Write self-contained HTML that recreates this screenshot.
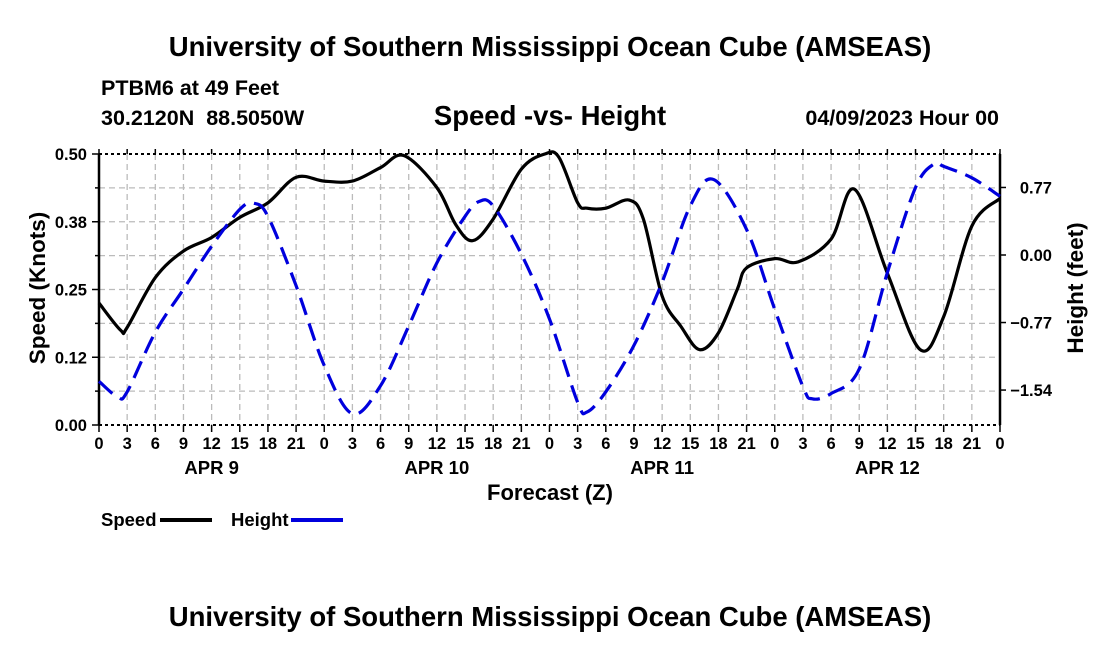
<!DOCTYPE html>
<html><head><meta charset="utf-8"><style>
html,body{margin:0;padding:0;background:#fff;}
svg text{font-family:"Liberation Sans",Arial,sans-serif;font-weight:bold;fill:#000;white-space:pre;}
</style></head><body>
<svg id="chart" width="1100" height="650" viewBox="0 0 1100 650" xmlns="http://www.w3.org/2000/svg">
<text x="550" y="56" font-size="27.5" text-anchor="middle">University of Southern Mississippi Ocean Cube (AMSEAS)</text>
<text x="101" y="95" font-size="21.5">PTBM6 at 49 Feet</text>
<text x="101" y="125" font-size="21.5" xml:space="preserve">30.2120N  88.5050W</text>
<text x="550" y="125" font-size="27.5" text-anchor="middle">Speed -vs- Height</text>
<text x="999" y="125" font-size="21.5" text-anchor="end">04/09/2023 Hour 00</text>
<g id="grid"></g>
<g id="axes"></g>
<g id="series"></g>
<text transform="translate(45,288) rotate(-90)" font-size="22.5" text-anchor="middle">Speed (Knots)</text>
<text transform="translate(1083,288) rotate(-90)" font-size="22.5" text-anchor="middle">Height (feet)</text>
<text x="550" y="500" font-size="22" text-anchor="middle">Forecast (Z)</text>
<g>
<text x="101" y="526" font-size="18.5">Speed</text>
<line x1="160" y1="520" x2="212" y2="520" stroke="#000" stroke-width="4"/>
<text x="231" y="526" font-size="18.5">Height</text>
<line x1="291" y1="520" x2="343" y2="520" stroke="#0000dd" stroke-width="4"/>
</g>
<text x="550" y="626" font-size="27.5" text-anchor="middle">University of Southern Mississippi Ocean Cube (AMSEAS)</text>
</svg>
<script>
const speedHours=[0,2.3,3,6,9,12,15,18,21,24,27,30,32.5,36,38,39.8,42,45,47.5,49,51,52,54,56.5,58,60,62,64,66,68,69,72,74.5,78,80.5,84,87.5,90,93,96];
const speedValues=[0.225,0.175,0.18,0.272,0.321,0.346,0.383,0.41,0.457,0.45,0.45,0.475,0.497,0.438,0.37,0.34,0.38,0.472,0.5,0.494,0.41,0.40,0.40,0.415,0.38,0.238,0.182,0.139,0.17,0.25,0.29,0.307,0.301,0.343,0.435,0.28,0.139,0.2,0.367,0.418];
const heightHours=[0,2,3,6,9,12,15,16.5,18,21,24,27,30,33,36,39,40.5,42,45,48,51,52,54,57,60,63,65.5,69,72,75,76,78,81,84,87,89,90,93,96];
const heightValues=[-1.44,-1.62,-1.56,-0.88,-0.39,0.10,0.52,0.59,0.44,-0.35,-1.26,-1.81,-1.49,-0.81,-0.09,0.44,0.61,0.56,0.01,-0.73,-1.68,-1.79,-1.56,-1.03,-0.31,0.56,0.86,0.29,-0.62,-1.5,-1.64,-1.58,-1.3,-0.2,0.77,1.04,1.01,0.88,0.67];
const xTickLabels=["0","3","6","9","12","15","18","21"];
const dayLabels=["APR 9","APR 10","APR 11","APR 12"];
const speedTicks=[0,0.125,0.25,0.375,0.5];
const speedTickLabels=["0.00","0.12","0.25","0.38","0.50"];
const heightTicks=[0.77,0,-0.77,-1.54];
const heightTickLabels=["0.77","0.00","\u22120.77","\u22121.54"];

const X0=99,X1=1000,Y0=154,Y1=425;
const xS=h=>X0+(X1-X0)*h/96;
const yS=v=>Y1-(Y1-Y0)*v/0.5;
const yH=f=>255-f*87.7;
const NS='http://www.w3.org/2000/svg';
function mk(tag,attrs,parent,txt){const e=document.createElementNS(NS,tag);for(const k in attrs)e.setAttribute(k,attrs[k]);if(txt!==undefined)e.textContent=txt;parent.appendChild(e);return e;}
const grid=document.getElementById('grid'),axes=document.getElementById('axes'),series=document.getElementById('series');
for(let i=1;i<32;i++){const g=mk('line',{x1:xS(i*3),x2:xS(i*3),y1:Y0,y2:Y1,stroke:'#bbb','stroke-width':1.3,'stroke-dasharray':'6,4'},grid);

}
for(let i=1;i<8;i++){const v=i*0.0625;const g=mk('line',{x1:X0,x2:X1,y1:yS(v),y2:yS(v),stroke:'#bbb','stroke-width':1.3,'stroke-dasharray':'6,4'},grid);

}
mk('line',{x1:X0,x2:X0,y1:Y0,y2:Y1,stroke:'#000','stroke-width':2.5},axes);
mk('line',{x1:X1,x2:X1,y1:Y0,y2:Y1,stroke:'#000','stroke-width':2.5},axes);
mk('line',{x1:X0,x2:X1,y1:Y0,y2:Y0,stroke:'#000','stroke-width':2,'stroke-dasharray':'3,3'},axes);
mk('line',{x1:X0,x2:X1,y1:Y1,y2:Y1,stroke:'#000','stroke-width':2,'stroke-dasharray':'3,3'},axes);
for(let i=0;i<=32;i++){const x=xS(i*3);
mk('line',{x1:x,x2:x,y1:Y1,y2:Y1+7,stroke:'#000','stroke-width':1.5},axes);
mk('line',{x1:x,x2:x,y1:Y0,y2:Y0-5,stroke:'#000','stroke-width':1.5},axes);
const t=mk('text',{x:x,y:449,'font-size':16.5,'text-anchor':'middle'},axes,xTickLabels[i%8]);

}
dayLabels.forEach((d,i)=>{const t=mk('text',{x:xS(i*24+12),y:474,'font-size':18.5,'text-anchor':'middle'},axes,d);

});
for(let i=0;i<=8;i++){const y=yS(i*0.0625);mk('line',{x1:X0-(i%2?4:7),x2:X0,y1:y,y2:y,stroke:'#000','stroke-width':1.5},axes);}
speedTicks.forEach((v,i)=>{const t=mk('text',{x:87,y:yS(v)+6,'font-size':16.5,'text-anchor':'end'},axes,speedTickLabels[i]);

});
heightTicks.forEach((v,i)=>{mk('line',{x1:X1,x2:X1+6,y1:yH(v),y2:yH(v),stroke:'#000','stroke-width':1.5},axes);
const t=mk('text',{x:1052,y:yH(v)+6,'font-size':16.5,'text-anchor':'end'},axes,heightTickLabels[i]);

});
function smooth(pts){let d='M'+pts[0][0]+','+pts[0][1];
for(let i=0;i<pts.length-1;i++){const p0=pts[i-1]||pts[i],p1=pts[i],p2=pts[i+1],p3=pts[i+2]||p2;
d+=' C'+(p1[0]+(p2[0]-p0[0])/6)+','+(p1[1]+(p2[1]-p0[1])/6)+' '+(p2[0]-(p3[0]-p1[0])/6)+','+(p2[1]-(p3[1]-p1[1])/6)+' '+p2[0]+','+p2[1];}
return d;}
const sp=mk('path',{d:smooth(speedHours.map((h,i)=>[xS(h),yS(speedValues[i])])),fill:'none',stroke:'#000','stroke-width':3.2},series);


const hp=mk('path',{d:smooth(heightHours.map((h,i)=>[xS(h),yH(heightValues[i])])),fill:'none',stroke:'#0000dd','stroke-width':3.2,'stroke-dasharray':'18,9'},series);


</script>
</body></html>
